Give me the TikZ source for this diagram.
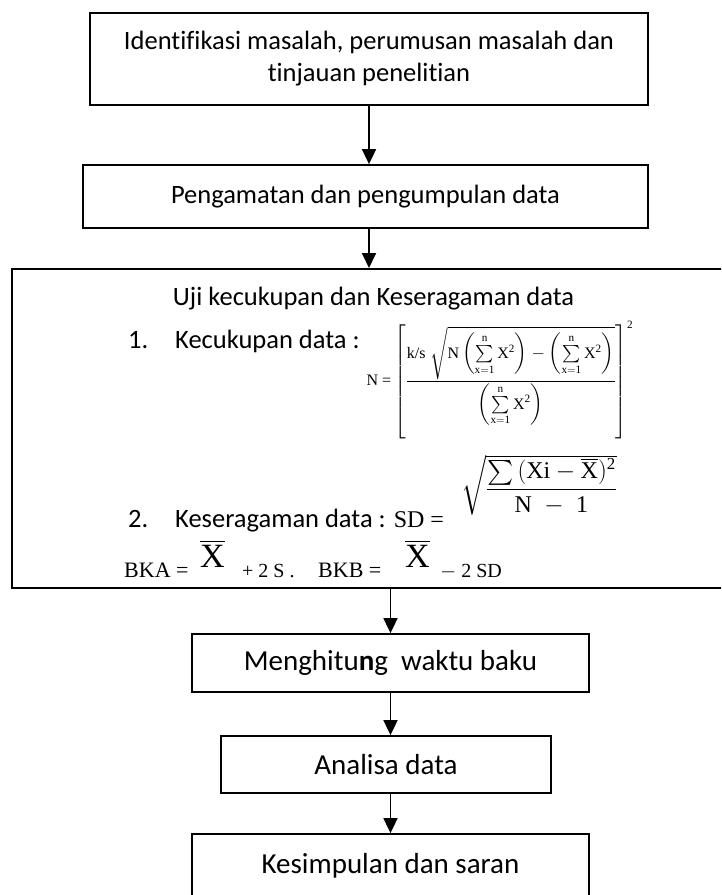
\documentclass[tikz,border=0pt]{standalone}
\usepackage{amsmath}
\usepackage{fontspec}
\setmainfont[Ligatures=NoCommon]{Carlito}
\newfontfamily\tnr{Liberation Serif}
\usetikzlibrary{arrows.meta}
\usetikzlibrary{positioning}

\newcommand{\rmt}[1]{\text{\tnr #1}}
\newcommand{\sumsq}{\left(\sum\limits_{\rmt{x}=\rmt{1}}^{\rmt{n}}\rmt{X}^{\rmt{2}}\right)}

\tikzset{
  stepbox/.style={draw, line width=1.8pt, align=center, inner sep=0pt},
  flowarrow/.style={line width=1.8pt, -{Triangle[width=14pt,length=15pt]}},
  toptext/.style={font=\fontsize{26.5}{32}\selectfont},
  lowtext/.style={font=\fontsize{29}{34}\selectfont},
  rumus/.style={inner sep=0pt, font=\tnr\fontsize{#1}{#1}\selectfont},
}

\begin{document}
\begin{tikzpicture}[x=1pt, y=-1pt]
    \useasboundingbox (0, 0) rectangle (721, 895);
    \clip (0, 0) rectangle (721, 895);

    \node [stepbox, toptext, minimum width=558pt, minimum height=92pt] (ident) at (369, 59)
      {Identifikasi masalah, perumusan masalah dan\\tinjauan penelitian};
    \node [stepbox, toptext, minimum width=565pt, minimum height=63pt] (kumpul) at (365.5, 196.5)
      {Pengamatan dan pengumpulan data};

    % kotak uji, sisi kanan keluar halaman
    \node [stepbox, minimum width=760pt, minimum height=319pt, anchor=north west] (uji) at (11, 268) {};
    \node [toptext, inner sep=0pt, anchor=base] (ujijudul) at (373.5, 305) {Uji kecukupan dan Keseragaman data};
    \node [toptext, inner sep=0pt, anchor=base west] (satu) at (128, 348) {1.};
    \node [toptext, inner sep=0pt, anchor=base west] (cukup) at (175, 348) {Kecukupan data :};
    \node [rumus=16] (rumuscukup) at (500, 380)
      {$\rmt{N =}\left[\dfrac{\rmt{k/s}\;\sqrt{\rmt{N}\sumsq-\sumsq}}{\sumsq}\right]^{\rmt{2}}$};

    \node [toptext, inner sep=0pt, anchor=base west] (dua) at (128, 527) {2.};
    \node [toptext, inner sep=0pt, anchor=base west] (seragam) at (175, 527)
      {Keseragaman data : {\tnr\fontsize{24}{26}\selectfont SD =}};
    \node [rumus=24] (rumussd) at (539, 485)
      {$\sqrt{\dfrac{\sum\,(\rmt{Xi}-\overline{\rmt{X}})^{\rmt{2}}}{\rmt{N}\;-\;\rmt{1}}}$};

    \node [rumus=22, anchor=base west] (bka) at (124, 577) {BKA =};
    \node [rumus=34, anchor=base west] (xbarA) at (200, 567) {$\overline{\rmt{X}}$};
    \node [rumus=20, anchor=base west] (plusA) at (242, 577) {+ 2 S .};
    \node [rumus=22, anchor=base west] (bkb) at (318, 577) {BKB =};
    \node [rumus=34, anchor=base west] (xbarB) at (405, 567) {$\overline{\rmt{X}}$};
    \node [rumus=20, anchor=base west] (minB) at (440, 577) {$-$ 2 SD};

    \node [stepbox, lowtext, minimum width=397pt, minimum height=58pt] (hitung) at (390.5, 663)
      {Menghitu{\bfseries n}g\ \ waktu baku};
    \node [stepbox, lowtext, minimum width=330pt, minimum height=57pt] (analisa) at (386, 764.5)
      {Analisa data};
    \node [stepbox, lowtext, minimum width=397pt, minimum height=64pt] (simpul) at (390.5, 866)
      {Kesimpulan dan saran};

    \draw [flowarrow] (ident.south) -- (ident.south |- kumpul.north);
    \draw [flowarrow] (ident.south |- kumpul.south) -- (ident.south |- uji.north);
    \draw [flowarrow] (hitung.north |- uji.south) -- (hitung.north);
    \draw [flowarrow] (hitung.south) -- (hitung.south |- analisa.north);
    \draw [flowarrow] (hitung.south |- analisa.south) -- (hitung.south |- simpul.north);
  \end{tikzpicture}
\end{document}
